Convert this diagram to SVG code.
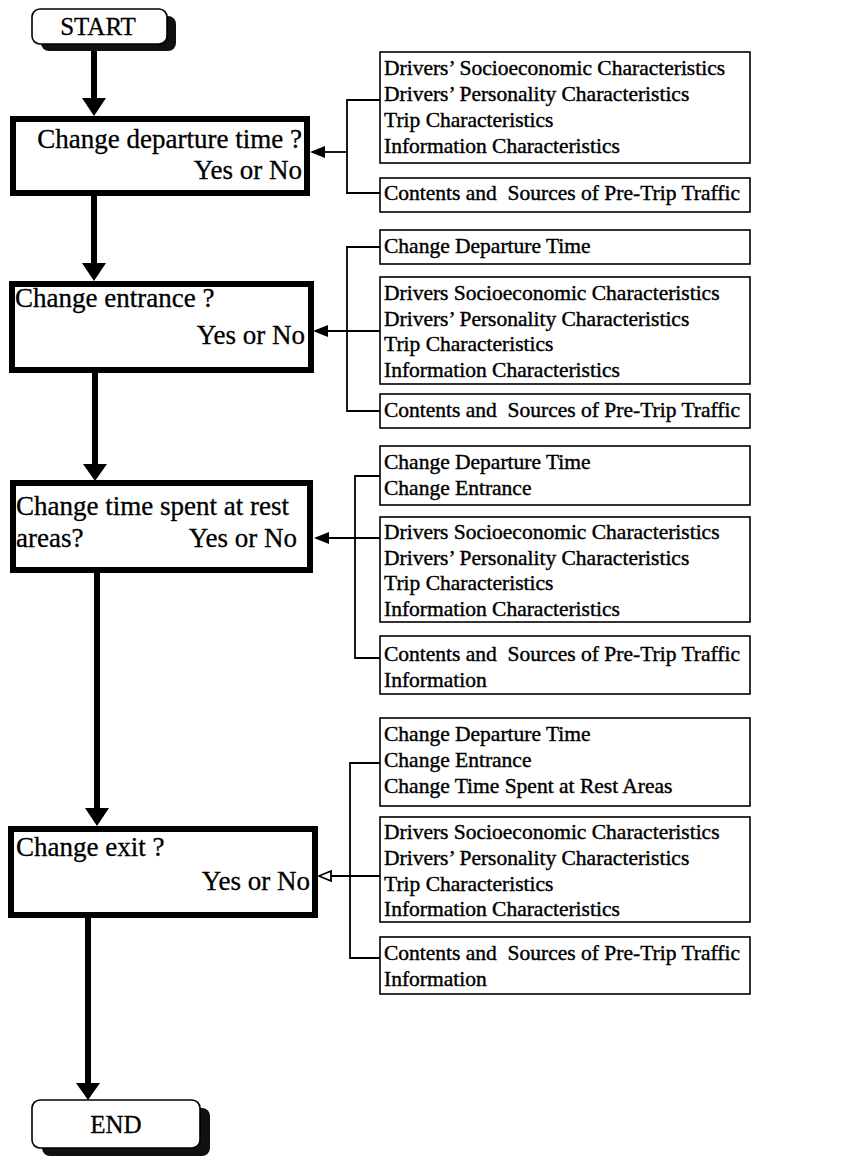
<svg xmlns="http://www.w3.org/2000/svg" width="854" height="1158" viewBox="0 0 854 1158">
  <style>
    .term { fill: #fff; stroke: #000; stroke-width: 1.6; }
    .shadow { fill: #111; stroke: none; }
    .step { fill: #fff; stroke: #000; stroke-width: 6; }
    .info { fill: #fff; stroke: #000; stroke-width: 1.6; }
    text { white-space: pre; fill: #000; stroke: #000; }
    .big { font-family: "Liberation Serif", "Times New Roman", serif; font-size: 27px; stroke-width: 0.3; }
    .termtxt { font-family: "Liberation Serif", "Times New Roman", serif; font-size: 25px; text-anchor: middle; stroke-width: 0.3; }
    .small { font-family: "Liberation Serif", "Times New Roman", serif; font-size: 21.5px; stroke-width: 0.4; }
    .end { text-anchor: end; }
    .flow { stroke: #000; stroke-width: 6; fill: none; }
    .thin { stroke: #000; stroke-width: 1.8; fill: none; }
    .head { fill: #000; stroke: none; }
    .hollow { fill: #fff; stroke: #000; stroke-width: 1.8; }
  </style>

  <!-- terminals -->
  <g id="start">
    <rect class="shadow" x="41" y="16" width="135" height="35" rx="8"/>
    <rect class="term" x="32" y="9" width="135" height="35" rx="8"/>
    <text class="termtxt" x="98" y="35">START</text>
  </g>

  <g id="end">
    <rect class="shadow" x="42" y="1108" width="168" height="48" rx="8"/>
    <rect class="term" x="32" y="1100" width="168" height="48" rx="8"/>
    <text class="termtxt" x="116" y="1133">END</text>
  </g>

  <!-- decision steps -->
  <g id="step-departure">
    <rect class="step" x="13" y="119" width="294" height="74"/>
    <text class="big end" x="302" y="148">Change departure time ?</text>
    <text class="big end" x="302" y="179">Yes or No</text>
  </g>

  <g id="step-entrance">
    <rect class="step" x="12" y="284" width="299" height="86"/>
    <text class="big" x="15" y="307">Change entrance ?</text>
    <text class="big end" x="305" y="344">Yes or No</text>
  </g>

  <g id="step-rest">
    <rect class="step" x="13" y="483" width="297" height="87"/>
    <text class="big" x="16" y="515">Change time spent at rest</text>
    <text class="big" x="16" y="547">areas?</text>
    <text class="big end" x="297" y="547">Yes or No</text>
  </g>

  <g id="step-exit">
    <rect class="step" x="11" y="829" width="304" height="86"/>
    <text class="big" x="16" y="856">Change exit ?</text>
    <text class="big end" x="310" y="890">Yes or No</text>
  </g>

  <!-- factor boxes, group 1 -->
  <g id="f1-characteristics">
    <rect class="info" x="380" y="52" width="370" height="111"/>
    <text class="small" x="384" y="75">Drivers’ Socioeconomic Characteristics</text>
    <text class="small" x="384" y="101">Drivers’ Personality Characteristics</text>
    <text class="small" x="384" y="127">Trip Characteristics</text>
    <text class="small" x="384" y="153">Information Characteristics</text>
  </g>
  <g id="f1-contents">
    <rect class="info" x="380" y="178" width="370" height="34"/>
    <text class="small" x="384" y="200">Contents and  Sources of Pre-Trip Traffic</text>
  </g>

  <!-- factor boxes, group 2 -->
  <g id="f2-prior">
    <rect class="info" x="380" y="230" width="370" height="34"/>
    <text class="small" x="384" y="253">Change Departure Time</text>
  </g>
  <g id="f2-characteristics">
    <rect class="info" x="380" y="277" width="370" height="107"/>
    <text class="small" x="384" y="300">Drivers Socioeconomic Characteristics</text>
    <text class="small" x="384" y="326">Drivers’ Personality Characteristics</text>
    <text class="small" x="384" y="351">Trip Characteristics</text>
    <text class="small" x="384" y="377">Information Characteristics</text>
  </g>
  <g id="f2-contents">
    <rect class="info" x="380" y="394" width="370" height="34"/>
    <text class="small" x="384" y="417">Contents and  Sources of Pre-Trip Traffic</text>
  </g>

  <!-- factor boxes, group 3 -->
  <g id="f3-prior">
    <rect class="info" x="380" y="446" width="370" height="59"/>
    <text class="small" x="384" y="469">Change Departure Time</text>
    <text class="small" x="384" y="495">Change Entrance</text>
  </g>
  <g id="f3-characteristics">
    <rect class="info" x="380" y="517" width="370" height="105"/>
    <text class="small" x="384" y="539">Drivers Socioeconomic Characteristics</text>
    <text class="small" x="384" y="565">Drivers’ Personality Characteristics</text>
    <text class="small" x="384" y="590">Trip Characteristics</text>
    <text class="small" x="384" y="616">Information Characteristics</text>
  </g>
  <g id="f3-contents">
    <rect class="info" x="380" y="636" width="370" height="58"/>
    <text class="small" x="384" y="661">Contents and  Sources of Pre-Trip Traffic</text>
    <text class="small" x="384" y="687">Information</text>
  </g>

  <!-- factor boxes, group 4 -->
  <g id="f4-prior">
    <rect class="info" x="380" y="718" width="370" height="88"/>
    <text class="small" x="384" y="741">Change Departure Time</text>
    <text class="small" x="384" y="767">Change Entrance</text>
    <text class="small" x="384" y="793">Change Time Spent at Rest Areas</text>
  </g>
  <g id="f4-characteristics">
    <rect class="info" x="380" y="817" width="370" height="105"/>
    <text class="small" x="384" y="839">Drivers Socioeconomic Characteristics</text>
    <text class="small" x="384" y="865">Drivers’ Personality Characteristics</text>
    <text class="small" x="384" y="891">Trip Characteristics</text>
    <text class="small" x="384" y="916">Information Characteristics</text>
  </g>
  <g id="f4-contents">
    <rect class="info" x="380" y="937" width="370" height="57"/>
    <text class="small" x="384" y="960">Contents and  Sources of Pre-Trip Traffic</text>
    <text class="small" x="384" y="986">Information</text>
  </g>

  <!-- connectors -->
  <g id="connectors">
    <!-- main flow -->
    <line class="flow" x1="94" y1="51" x2="94" y2="100"/>
    <polygon class="head" points="82,98 106,98 94,116"/>
    <line class="flow" x1="94" y1="196" x2="94" y2="265"/>
    <polygon class="head" points="82,263 106,263 94,281"/>
    <line class="flow" x1="95" y1="372" x2="95" y2="466"/>
    <polygon class="head" points="83,464 107,464 95,481"/>
    <line class="flow" x1="97" y1="572" x2="97" y2="810"/>
    <polygon class="head" points="85,808 109,808 97,826"/>
    <line class="flow" x1="88" y1="918" x2="88" y2="1085"/>
    <polygon class="head" points="76,1083 100,1083 88,1100"/>

    <!-- factor group 1 -->
    <polyline class="thin" points="380,100 347,100 347,193 380,193"/>
    <line class="thin" x1="347" y1="152" x2="322" y2="152"/>
    <polygon class="head" points="310,152 325,146 325,158"/>

    <!-- factor group 2 -->
    <polyline class="thin" points="380,247 347,247 347,411 380,411"/>
    <line class="thin" x1="380" y1="331" x2="325" y2="331"/>
    <polygon class="head" points="313,331 328,325 328,337"/>

    <!-- factor group 3 -->
    <polyline class="thin" points="380,476 355,476 355,658 380,658"/>
    <line class="thin" x1="380" y1="538" x2="326" y2="538"/>
    <polygon class="head" points="314,538 329,532 329,544"/>

    <!-- factor group 4 -->
    <polyline class="thin" points="380,763 350,763 350,958 380,958"/>
    <line class="thin" x1="380" y1="876" x2="330" y2="876"/>
    <polygon class="hollow" points="319,876 331,871 331,881"/>
  </g>
</svg>
